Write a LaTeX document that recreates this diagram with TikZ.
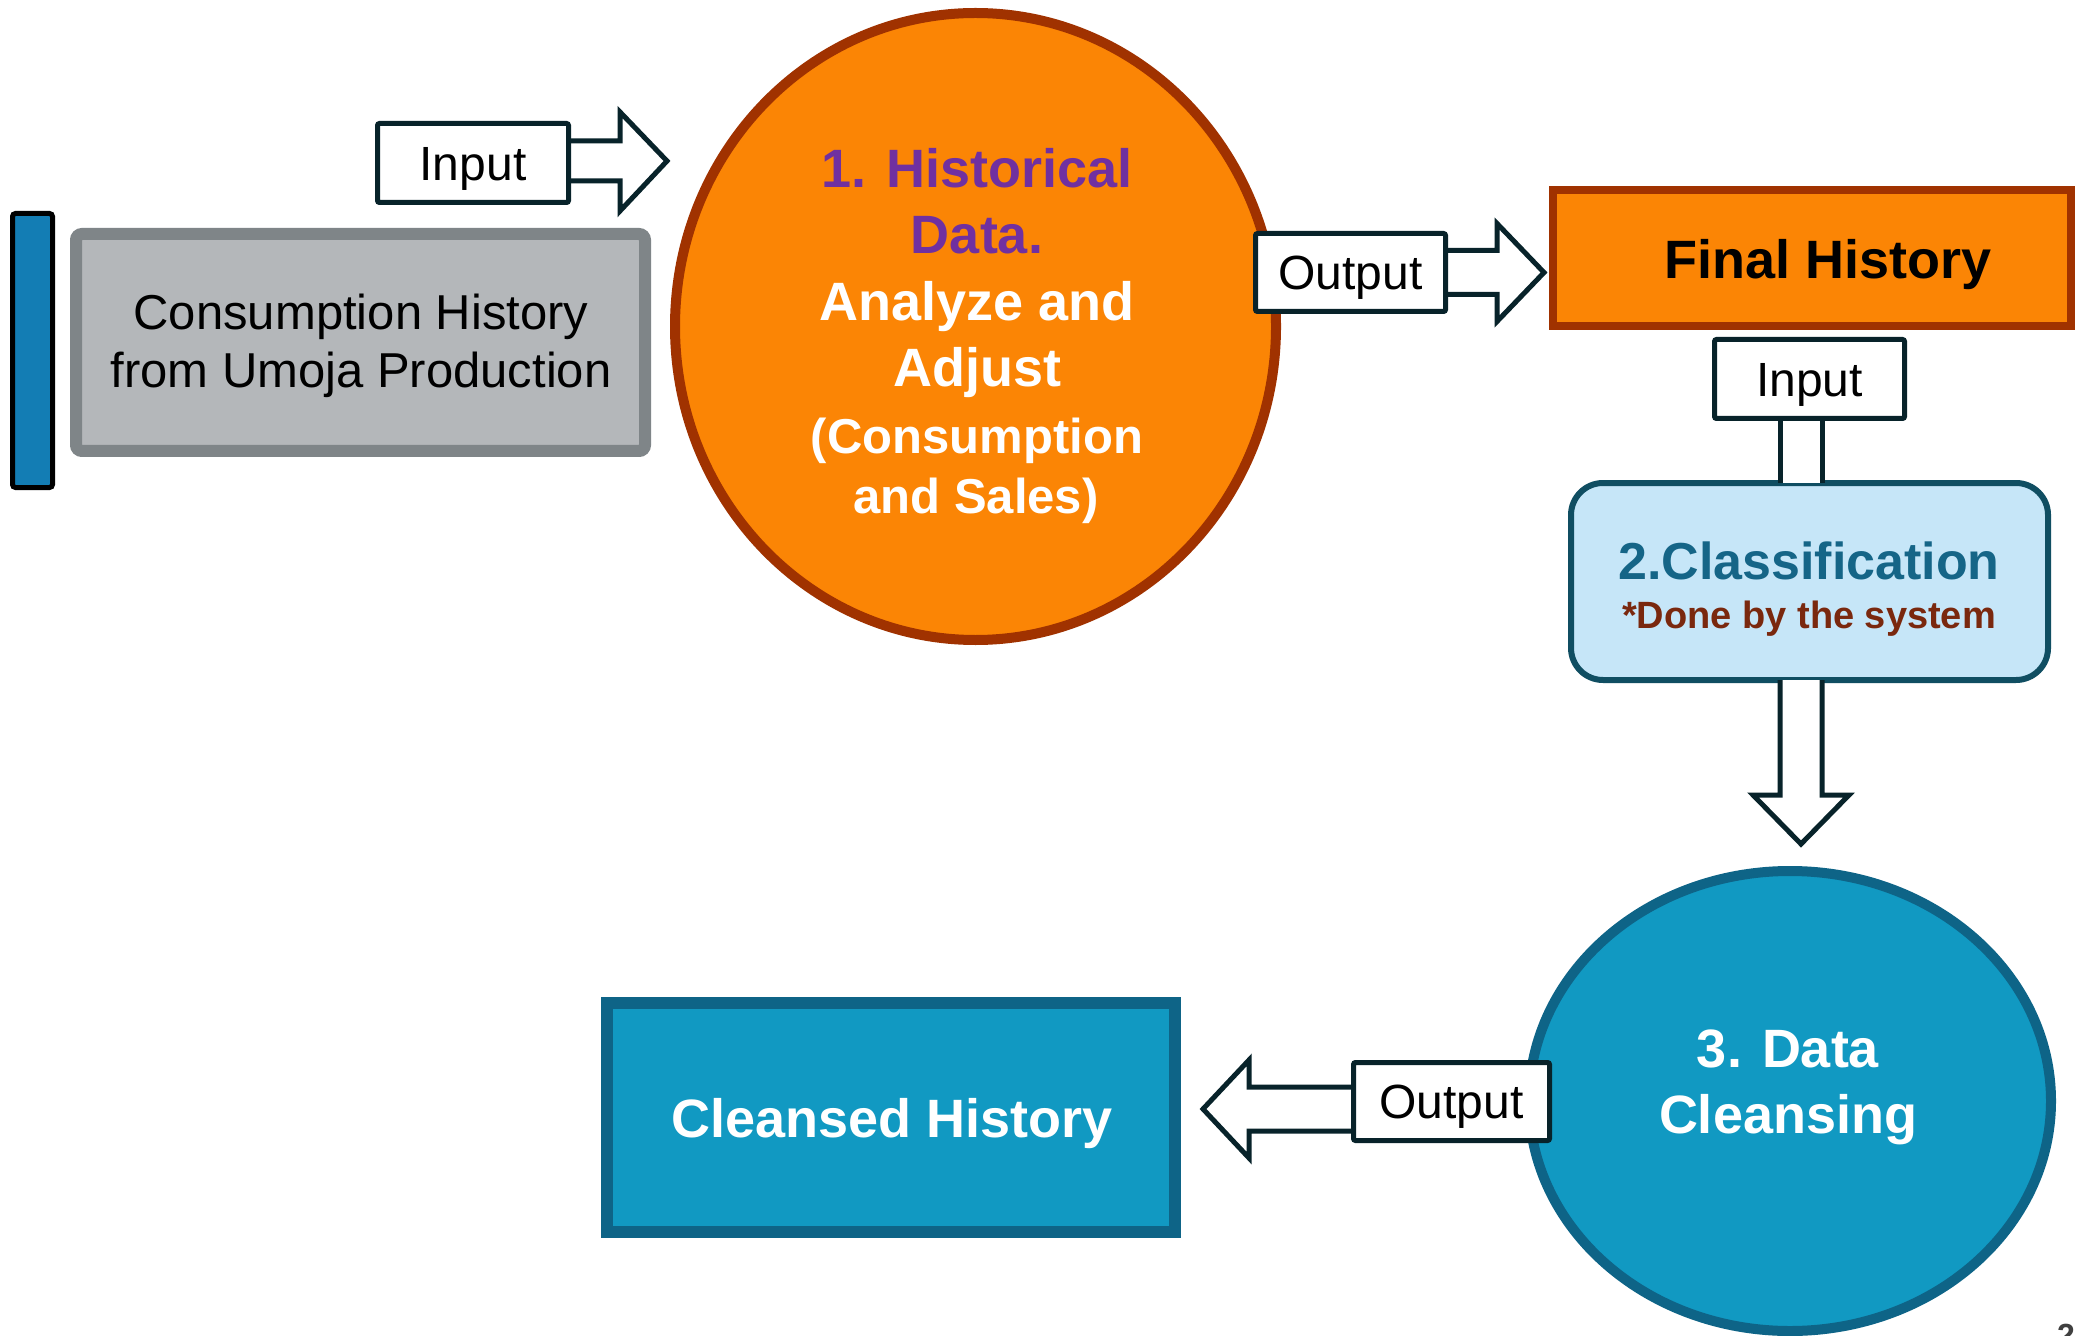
\documentclass[tikz,border=0pt]{standalone}
\usepackage{fontspec}
\setmainfont{Liberation Sans}
\usetikzlibrary{shapes.geometric,calc}
\definecolor{orangefill}{RGB}{251,133,5}
\definecolor{orangeline}{RGB}{160,50,0}
\definecolor{hpurple}{RGB}{112,48,160}
\definecolor{tealfill}{RGB}{17,153,194}
\definecolor{tealline}{RGB}{14,100,135}
\definecolor{lightblue}{RGB}{198,230,248}
\definecolor{classline}{RGB}{16,78,98}
\definecolor{classtitle}{RGB}{21,101,135}
\definecolor{donebrown}{RGB}{122,40,14}
\definecolor{outl}{RGB}{8,35,42}
\definecolor{grayline}{RGB}{127,133,136}
\definecolor{grayfill}{RGB}{180,183,186}
\definecolor{barblue}{RGB}{19,125,180}
\definecolor{pagegray}{RGB}{64,64,64}
\pgfdeclarelayer{bg}
\pgfdeclarelayer{mid}
\pgfsetlayers{bg,mid,main}
\begin{document}
\begin{tikzpicture}[x=0.5pt,y=-0.5pt,
  lbl/.style={draw=outl, line width=2.5pt, fill=white, inner sep=0pt, rounded corners=1pt,
    font=\fontsize{24pt}{29pt}\selectfont, text height=17.2pt, text depth=0pt},
  bigtxt/.style={anchor=base, inner sep=0pt, font=\fontsize{27pt}{32pt}\selectfont\bfseries},
  midtxt/.style={anchor=base, inner sep=0pt, font=\fontsize{24.5pt}{29pt}\selectfont\bfseries},
  graytxt/.style={anchor=base, inner sep=0pt, font=\fontsize{24.5pt}{29pt}\selectfont},
  blockarrow/.style={draw=outl, line width=2.5pt, fill=white, line join=miter},
  bigell/.style={ellipse, inner sep=0pt, line width=5pt}
]
\useasboundingbox (0,0) rectangle (2080,1336);

\begin{pgfonlayer}{bg}
\fill[white] (0,0) rectangle (2080,1336);
% left source
\node[draw=black, line width=2.5pt, fill=barblue, rounded corners=1.5pt, inner sep=0pt,
  minimum width=20pt, minimum height=137pt] (bar) at (32.5,350.5) {};
\node[draw=grayline, line width=6pt, fill=grayfill, rounded corners=3pt, inner sep=0pt,
  minimum width=284.5pt, minimum height=108.5pt] (src) at (360.5,342.5) {};
% process 1
\node[bigell, draw=orangeline, fill=orangefill, minimum width=300.5pt, minimum height=313.5pt]
  (c1) at (975.5,326.5) {};
% final history
\node[draw=orangeline, line width=4pt, fill=orangefill, inner sep=0pt,
  minimum width=259pt, minimum height=68pt] (final) at (1812,258) {};
% classification
\node[draw=classline, line width=3pt, fill=lightblue, rounded corners=16pt, inner sep=0pt,
  minimum width=238.5pt, minimum height=98.5pt] (class) at (1809.5,581.5) {};
% process 3
\node[bigell, draw=tealline, fill=tealfill, minimum width=261pt, minimum height=230pt]
  (c3) at (1790,1101) {};
% cleansed history
\node[draw=tealline, line width=6pt, fill=tealfill, inner sep=0pt,
  minimum width=284pt, minimum height=114.5pt] (clean) at (891,1117.5) {};
\end{pgfonlayer}

% texts
\node[graytxt] (srcA) at (361,330) {Consumption History};
\node[graytxt] (srcB) at (361,388) {from Umoja Production};
\node[bigtxt, text=hpurple] (c1a) at (977,188) {1. Historical};
\node[bigtxt, text=hpurple] (c1b) at (977,254) {Data.};
\node[bigtxt, text=white] (c1c) at (977,321) {Analyze and};
\node[bigtxt, text=white] (c1d) at (977,387) {Adjust};
\node[midtxt, text=white] (c1e) at (977,453) {(Consumption};
\node[midtxt, text=white] (c1f) at (976,513) {and Sales)};
\node[bigtxt, text=black] (finalt) at (1828,279) {Final History};
\node[anchor=base, inner sep=0pt, font=\fontsize{26pt}{31pt}\selectfont\bfseries, text=classtitle]
  (classt) at (1809,579) {2.Classification};
\node[anchor=base, inner sep=0pt, font=\fontsize{19pt}{23pt}\selectfont\bfseries, text=donebrown]
  (classs) at (1809,628) {*Done by the system};
\node[bigtxt, text=white] (c3a) at (1788,1067) {3. Data};
\node[bigtxt, text=white] (c3b) at (1788,1133) {Cleansing};
\node[bigtxt, text=white] (cleant) at (892,1137) {Cleansed History};

% label boxes
\node[lbl, minimum width=95.5pt, minimum height=39.5pt] (in1) at (473,163) {Input};
\node[lbl, minimum width=95pt, minimum height=39pt] (out1) at (1350.5,272.5) {Output};
\node[lbl, minimum width=95pt, minimum height=39.5pt] (in2) at (1809.5,379) {Input};
\node[lbl, minimum width=98pt, minimum height=39pt] (out3) at (1451.5,1101.5) {Output};

% block arrows, beneath the label boxes
\begin{pgfonlayer}{mid}
\draw[blockarrow] ($(in1.east)+(-3,-22)$) -- ($(in1.east)+(49,-22)$) -- ($(in1.east)+(49,-51)$)
  -- ($(in1.east)+(96,-2)$) -- ($(in1.east)+(49,48)$) -- ($(in1.east)+(49,18)$) -- ($(in1.east)+(-3,18)$);
\draw[blockarrow] ($(out1.east)+(-3,-22)$) -- ($(out1.east)+(49,-22)$) -- ($(out1.east)+(49,-49)$)
  -- ($(out1.east)+(96,0)$) -- ($(out1.east)+(49,49)$) -- ($(out1.east)+(49,22)$) -- ($(out1.east)+(-3,22)$);
\fill[white] ($(in2.south)+(-29.5,-3)$) rectangle ($(class.north)+(12.5,3)$);
\draw[draw=outl, line width=2.5pt] ($(in2.south)+(-29.5,-3)$) -- ($(class.north)+(-29.5,3)$);
\draw[draw=outl, line width=2.5pt] ($(in2.south)+(12.5,-3)$) -- ($(class.north)+(12.5,3)$);
\draw[blockarrow] ($(class.south)+(-29.5,-3)$) -- ($(class.south)+(-29.5,112)$) -- ($(class.south)+(-56.5,112)$)
  -- ($(class.south)+(-8.5,161)$) -- ($(class.south)+(39.5,112)$) -- ($(class.south)+(12.5,112)$) -- ($(class.south)+(12.5,-3)$);
\draw[blockarrow] ($(out3.west)+(3,-14.5)$) -- ($(out3.west)+(-102,-14.5)$) -- ($(out3.west)+(-102,-41.5)$)
  -- ($(out3.west)+(-148,7.5)$) -- ($(out3.west)+(-102,56.5)$) -- ($(out3.west)+(-102,29.5)$) -- ($(out3.west)+(3,29.5)$);
\end{pgfonlayer}

% partially visible page number
\node[anchor=north, inner sep=0pt, font=\fontsize{16pt}{19pt}\selectfont\bfseries, text=pagegray,
  text height=11.5pt, text depth=0pt] (pagenum) at (2066,1323) {2};
\end{tikzpicture}
\end{document}
